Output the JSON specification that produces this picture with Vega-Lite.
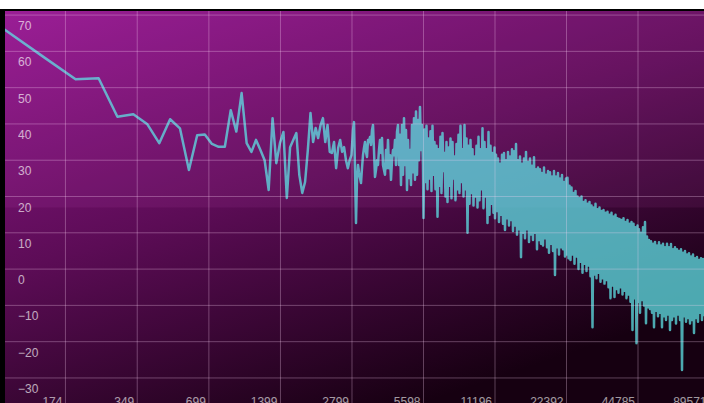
{
"$schema":"https://vega.github.io/schema/vega-lite/v6.json",
"width":704,"height":393,"autosize":"none",
"padding":{"left":0,"top":10,"right":0,"bottom":0},
"background":"#ffffff",
"config":{"view":{"stroke":null},"font":"Liberation Sans"},
"datasets":{
"xlabels":[{"f":174},{"f":349},{"f":699},{"f":1399},{"f":2799},{"f":5598},{"f":11196},{"f":22392},{"f":44785},{"f":89571}],
"ylabels":[{"v":70},{"v":60},{"v":50},{"v":40},{"v":30},{"v":20},{"v":10},{"v":0},{"v":-10},{"v":-20},{"v":-30}],
"spectrum":[
{"f":96,"db":66.1},{"f":144,"db":58.0},{"f":192,"db":52.3},{"f":240,"db":52.6},{"f":288,"db":42.0},{"f":336,"db":42.7},{"f":384,"db":40.0},{"f":432,"db":34.7},{"f":480,"db":41.3},{"f":528,"db":38.8},{"f":576,"db":27.3},{"f":624,"db":36.9},{"f":672,"db":37.1},{"f":720,"db":34.5},{"f":768,"db":33.7},{"f":816,"db":33.7},{"f":864,"db":43.8},{"f":912,"db":37.9},{"f":960,"db":48.5},{"f":1008,"db":34.7},{"f":1056,"db":32.3},{"f":1104,"db":35.6},{"f":1152,"db":32.8},{"f":1200,"db":30.0},{"f":1248,"db":21.8},{"f":1296,"db":41.6},{"f":1344,"db":29.2},{"f":1392,"db":34.7},{"f":1440,"db":37.8},{"f":1488,"db":19.6},{"f":1536,"db":33.6},{"f":1584,"db":35.6},{"f":1632,"db":37.5},{"f":1680,"db":25.9},{"f":1728,"db":21.0},{"f":1776,"db":24.0},{"f":1824,"db":32.8},{"f":1872,"db":43.0},{"f":1920,"db":35.0},{"f":1968,"db":38.9},{"f":2016,"db":36.1},{"f":2064,"db":39.7},{"f":2112,"db":41.6},{"f":2160,"db":35.0},{"f":2208,"db":39.7},{"f":2256,"db":32.3},{"f":2304,"db":32.0},{"f":2352,"db":35.0},{"f":2400,"db":27.8},{"f":2448,"db":33.4},{"f":2496,"db":35.6},{"f":2544,"db":32.3},{"f":2592,"db":33.6},{"f":2640,"db":30.0},{"f":2688,"db":27.8},{"f":2736,"db":30.0},{"f":2784,"db":31.4},
{"f":2826,"db":38.3},{"f":2854,"db":40.5},{"f":2882,"db":27.3},{"f":2910,"db":12.7},{"f":2938,"db":24.6},{"f":2967,"db":28.7},{"f":2996,"db":26.7},{"f":3025,"db":25.1},{"f":3054,"db":23.7},{"f":3084,"db":27.8},{"f":3114,"db":31.4},{"f":3144,"db":33.4},{"f":3175,"db":35.0},{"f":3206,"db":32.3},{"f":3237,"db":30.9},{"f":3269,"db":35.6},{"f":3300,"db":35.0},{"f":3333,"db":36.4},{"f":3365,"db":34.2},{"f":3398,"db":38.3},{"f":3431,"db":39.7},{"f":3464,"db":32.8},{"f":3498,"db":25.4},{"f":3532,"db":27.3},{"f":3567,"db":30.0},{"f":3601,"db":28.7},{"f":3636,"db":32.8},{"f":3672,"db":35.6},{"f":3708,"db":32.0},{"f":3744,"db":36.1},{"f":3780,"db":28.7},{"f":3817,"db":27.3},{"f":3854,"db":26.0},{"f":3892,"db":32.8},{"f":3930,"db":27.8},{"f":3968,"db":35.6},{"f":4007,"db":27.8},{"f":4046,"db":31.4},{"f":4085,"db":24.6},{"f":4125,"db":30.0},{"f":4165,"db":32.8},{"f":4206,"db":31.4},{"f":4247,"db":35.6},{"f":4288,"db":28.7},{"f":4330,"db":37.8},{"f":4372,"db":39.7},{"f":4414,"db":28.7},{"f":4457,"db":37.0},{"f":4501,"db":23.2},{"f":4545,"db":39.7},{"f":4589,"db":26.0},{"f":4634,"db":41.6},{"f":4679,"db":28.7},{"f":4724,"db":38.3},{"f":4770,"db":21.8},{"f":4817,"db":35.6},{"f":4864,"db":25.1},{"f":4911,"db":32.8},{"f":4959,"db":23.2},{"f":5007,"db":39.7},{"f":5056,"db":26.7},{"f":5105,"db":41.6},{"f":5155,"db":24.6},{"f":5205,"db":43.4},{"f":5256,"db":26.0},{"f":5307,"db":41.1},{"f":5359,"db":30.0},{"f":5411,"db":44.7},{"f":5464,"db":32.8},{"f":5517,"db":39.7},{"f":5571,"db":28.7},
{"f":5598,"db":14.1},{"f":5653,"db":38.5},{"f":5708,"db":24},{"f":5763,"db":39.5},{"f":5819,"db":22},{"f":5876,"db":36},{"f":5933,"db":25},{"f":5991,"db":38},{"f":6049,"db":21.5},{"f":6108,"db":39.5},{"f":6168,"db":26},{"f":6228,"db":35},{"f":6289,"db":22},{"f":6350,"db":34},{"f":6412,"db":14.4},{"f":6474,"db":33},{"f":6537,"db":23},{"f":6601,"db":36.5},{"f":6665,"db":21},{"f":6730,"db":37.5},{"f":6796,"db":27},{"f":6862,"db":32},{"f":6929,"db":20},{"f":6996,"db":35},{"f":7064,"db":18.5},{"f":7133,"db":33.5},{"f":7203,"db":23},{"f":7273,"db":36},{"f":7344,"db":19.5},{"f":7415,"db":35},{"f":7487,"db":25},{"f":7560,"db":31},{"f":7634,"db":19},{"f":7708,"db":34.5},{"f":7783,"db":22},{"f":7859,"db":37},{"f":7936,"db":21},{"f":8013,"db":39.5},{"f":8091,"db":24},{"f":8170,"db":33},{"f":8250,"db":20},{"f":8330,"db":39.7},{"f":8411,"db":22},{"f":8493,"db":36},{"f":8576,"db":10},{"f":8659,"db":34},{"f":8744,"db":18},{"f":8829,"db":35.6},{"f":8915,"db":21},{"f":9002,"db":33},{"f":9089,"db":17.5},{"f":9178,"db":31},{"f":9267,"db":20},{"f":9358,"db":34},{"f":9449,"db":17},{"f":9541,"db":36.5},{"f":9634,"db":19},{"f":9727,"db":33},{"f":9822,"db":22},{"f":9918,"db":38.8},{"f":10014,"db":16.8},{"f":10112,"db":35},{"f":10211,"db":20},{"f":10310,"db":33},{"f":10410,"db":12.7},{"f":10512,"db":37.8},{"f":10614,"db":15},{"f":10718,"db":34},{"f":10822,"db":18},{"f":10927,"db":32},{"f":11034,"db":15.5},{"f":11141,"db":33.5},
{"f":11196,"db":14},{"f":11306,"db":31.5},{"f":11416,"db":16},{"f":11526,"db":30.5},{"f":11638,"db":13},{"f":11752,"db":29},{"f":11866,"db":15},{"f":11982,"db":31.5},{"f":12098,"db":12.5},{"f":12216,"db":32},{"f":12336,"db":10.8},{"f":12456,"db":30},{"f":12578,"db":14},{"f":12700,"db":32.3},{"f":12824,"db":12},{"f":12948,"db":31},{"f":13074,"db":13.5},{"f":13202,"db":33},{"f":13330,"db":10.5},{"f":13460,"db":32.5},{"f":13592,"db":12},{"f":13724,"db":34.5},{"f":13858,"db":9.5},{"f":13992,"db":30},{"f":14128,"db":11},{"f":14266,"db":31},{"f":14406,"db":3.3},{"f":14546,"db":29},{"f":14688,"db":10},{"f":14830,"db":30.5},{"f":14974,"db":8.5},{"f":15120,"db":32.3},{"f":15268,"db":11},{"f":15416,"db":29.5},{"f":15566,"db":7.5},{"f":15718,"db":30.5},{"f":15872,"db":9.5},{"f":16026,"db":28.5},{"f":16182,"db":8},{"f":16340,"db":30.8},{"f":16500,"db":10},{"f":16660,"db":27.5},{"f":16822,"db":5.5},{"f":16986,"db":28},{"f":17152,"db":8},{"f":17318,"db":27.5},{"f":17488,"db":7},{"f":17658,"db":26.5},{"f":17830,"db":6.5},{"f":18004,"db":28},{"f":18178,"db":8.5},{"f":18356,"db":26},{"f":18534,"db":6},{"f":18716,"db":27},{"f":18898,"db":4.5},{"f":19082,"db":26.7},{"f":19268,"db":7},{"f":19454,"db":25.5},{"f":19644,"db":5},{"f":19836,"db":27},{"f":20028,"db":-1.6},{"f":20224,"db":25.5},{"f":20422,"db":6},{"f":20620,"db":26.5},{"f":20820,"db":4},{"f":21024,"db":25},{"f":21228,"db":6},{"f":21436,"db":25.9},{"f":21644,"db":5.5},{"f":21854,"db":24},{"f":22068,"db":3.5},{"f":22282,"db":25},
{"f":22392,"db":4},{"f":22612,"db":25.2},{"f":22832,"db":3},{"f":23052,"db":23},{"f":23276,"db":2.5},{"f":23504,"db":22.5},{"f":23732,"db":4},{"f":23964,"db":21},{"f":24196,"db":1.5},{"f":24432,"db":21.5},{"f":24672,"db":3.5},{"f":24912,"db":20},{"f":25156,"db":0},{"f":25400,"db":19.5},{"f":25648,"db":2},{"f":25896,"db":20},{"f":26148,"db":-1},{"f":26404,"db":18.5},{"f":26660,"db":1.5},{"f":26920,"db":19},{"f":27184,"db":-0.5},{"f":27448,"db":18},{"f":27716,"db":1},{"f":27984,"db":18.5},{"f":28256,"db":-2},{"f":28532,"db":17.5},{"f":28812,"db":-16},{"f":29092,"db":17},{"f":29376,"db":-1.5},{"f":29660,"db":18},{"f":29948,"db":-2.5},{"f":30240,"db":16.5},{"f":30536,"db":-1},{"f":30832,"db":17},{"f":31132,"db":-3.5},{"f":31436,"db":16},{"f":31744,"db":-2.5},{"f":32052,"db":16.3},{"f":32364,"db":-4},{"f":32680,"db":15.5},{"f":33000,"db":-3},{"f":33320,"db":15.8},{"f":33644,"db":-5},{"f":33972,"db":15},{"f":34304,"db":-8},{"f":34636,"db":15.5},{"f":34976,"db":-4.5},{"f":35316,"db":14.5},{"f":35660,"db":-7.7},{"f":36008,"db":15},{"f":36356,"db":-5.5},{"f":36712,"db":14},{"f":37068,"db":-6.5},{"f":37432,"db":13.8},{"f":37796,"db":-5},{"f":38164,"db":13.5},{"f":38536,"db":-7},{"f":38908,"db":14},{"f":39288,"db":-6},{"f":39672,"db":13},{"f":40056,"db":-8},{"f":40448,"db":13.5},{"f":40844,"db":-7},{"f":41240,"db":12.5},{"f":41640,"db":-9},{"f":42048,"db":13},{"f":42456,"db":-16.8},{"f":42872,"db":12.5},{"f":43288,"db":-8},{"f":43708,"db":11.5},{"f":44136,"db":-20.4},{"f":44564,"db":12},
{"f":44784,"db":-9},{"f":45224,"db":11},{"f":45664,"db":-12},{"f":46104,"db":10},{"f":46552,"db":-8.5},{"f":47008,"db":11.5},{"f":47464,"db":-10},{"f":47928,"db":13},{"f":48392,"db":-14.9},{"f":48864,"db":9},{"f":49344,"db":-10.5},{"f":49824,"db":8},{"f":50312,"db":-11},{"f":50800,"db":7.7},{"f":51296,"db":-12},{"f":51792,"db":7},{"f":52296,"db":-16},{"f":52808,"db":7.5},{"f":53320,"db":-11.5},{"f":53840,"db":6.5},{"f":54368,"db":-13},{"f":54896,"db":7.4},{"f":55432,"db":-12},{"f":55968,"db":6.5},{"f":56512,"db":-16},{"f":57064,"db":7},{"f":57624,"db":-13},{"f":58184,"db":6},{"f":58752,"db":-14},{"f":59320,"db":7},{"f":59896,"db":-12.5},{"f":60480,"db":6},{"f":61072,"db":-16.8},{"f":61664,"db":6.9},{"f":62264,"db":-14},{"f":62872,"db":5.5},{"f":63488,"db":-13},{"f":64104,"db":6},{"f":64728,"db":-15},{"f":65360,"db":5.5},{"f":66000,"db":-12.5},{"f":66640,"db":5},{"f":67288,"db":-14},{"f":67944,"db":5.5},{"f":68608,"db":-27.8},{"f":69272,"db":4.5},{"f":69952,"db":-13},{"f":70632,"db":5},{"f":71320,"db":-14.5},{"f":72016,"db":4},{"f":72712,"db":-13.5},{"f":73424,"db":4.4},{"f":74136,"db":-15},{"f":74864,"db":3.5},{"f":75592,"db":-14},{"f":76328,"db":4},{"f":77072,"db":-17.6},{"f":77816,"db":3},{"f":78576,"db":-13.5},{"f":79344,"db":3.3},{"f":80112,"db":-14.5},{"f":80896,"db":2.5},{"f":81688,"db":-12},{"f":82480,"db":3},{"f":83280,"db":-14},{"f":84096,"db":2.8},{"f":84912,"db":-13}
]},
"layer":[
{"data":{"values":[{}]},
 "mark":{"type":"rect","fill":{"gradient":"linear","x1":0,"y1":0,"x2":0.6,"y2":1,"stops":[{"offset":0,"color":"#941890"},{"offset":0.5,"color":"#5c0c56"},{"offset":1,"color":"#160011"}]}},
 "encoding":{
  "x":{"datum":92.27,"type":"quantitative","scale":{"type":"log","domain":[92.27,84912],"nice":false},"axis":null},
  "x2":{"datum":84912},
  "y":{"datum":71.4,"type":"quantitative","scale":{"domain":[-36.9,71.4],"nice":false,"zero":false},"axis":null},
  "y2":{"datum":-36.9}}},
{"data":{"values":[{}]},
 "mark":{"type":"rect","fill":"#ff70f0","opacity":0.07},
 "encoding":{
  "x":{"datum":92.27,"type":"quantitative","scale":{"type":"log","domain":[92.27,84912],"nice":false},"axis":null},
  "x2":{"datum":84912},
  "y":{"datum":71.4,"type":"quantitative","scale":{"domain":[-36.9,71.4],"nice":false,"zero":false},"axis":null},
  "y2":{"datum":17.0}}},
{"data":{"name":"spectrum"},
 "mark":{"type":"line","color":"#5fe1e6","strokeOpacity":0.75,"strokeWidth":2.5,"strokeJoin":"round"},
 "encoding":{
  "x":{"field":"f","type":"quantitative","sort":null,"scale":{"type":"log","domain":[92.27,84912],"nice":false},"axis":null},
  "y":{"field":"db","type":"quantitative","scale":{"domain":[-36.9,71.4],"nice":false,"zero":false},"axis":null}}},
{"data":{"name":"xlabels"},
 "transform":[{"filter":"datum.f < 80000"}],
 "mark":{"type":"rule","color":"#ffd6f8","opacity":0.3,"strokeWidth":1},
 "encoding":{"x":{"field":"f","type":"quantitative","scale":{"type":"log","domain":[92.27,84912],"nice":false},"axis":null}}},
{"data":{"name":"ylabels"},
 "mark":{"type":"rule","color":"#ffd6f8","opacity":0.3,"strokeWidth":1},
 "encoding":{"y":{"field":"v","type":"quantitative","scale":{"domain":[-36.9,71.4],"nice":false,"zero":false},"axis":null}}},
{"data":{"name":"ylabels"},
 "mark":{"type":"text","align":"left","baseline":"middle","dx":18,"dy":11,"fontSize":12,"font":"Liberation Sans","color":"#ffffff","opacity":0.65},
 "encoding":{
  "x":{"datum":92.27,"type":"quantitative","scale":{"type":"log","domain":[92.27,84912],"nice":false},"axis":null},
  "y":{"field":"v","type":"quantitative","scale":{"domain":[-36.9,71.4],"nice":false,"zero":false},"axis":null},
  "text":{"field":"v","type":"quantitative","format":"d"}}},
{"data":{"name":"xlabels"},
 "mark":{"type":"text","align":"right","baseline":"alphabetic","dx":-3,"dy":3,"fontSize":12,"font":"Liberation Sans","color":"#ffffff","opacity":0.6},
 "encoding":{
  "x":{"field":"f","type":"quantitative","scale":{"type":"log","domain":[92.27,84912],"nice":false},"axis":null},
  "y":{"datum":-36.9,"type":"quantitative","scale":{"domain":[-36.9,71.4],"nice":false,"zero":false},"axis":null},
  "text":{"field":"f","type":"quantitative","format":"d"}}},
{"data":{"values":[{}]},
 "mark":{"type":"rule","color":"#000000","strokeWidth":10},
 "encoding":{"x":{"datum":92.27,"type":"quantitative","scale":{"type":"log","domain":[92.27,84912],"nice":false},"axis":null}}},
{"data":{"values":[{}]},
 "mark":{"type":"rule","color":"#000000","strokeWidth":2},
 "encoding":{"y":{"datum":71.4,"type":"quantitative","scale":{"domain":[-36.9,71.4],"nice":false,"zero":false},"axis":null}}}
]}
